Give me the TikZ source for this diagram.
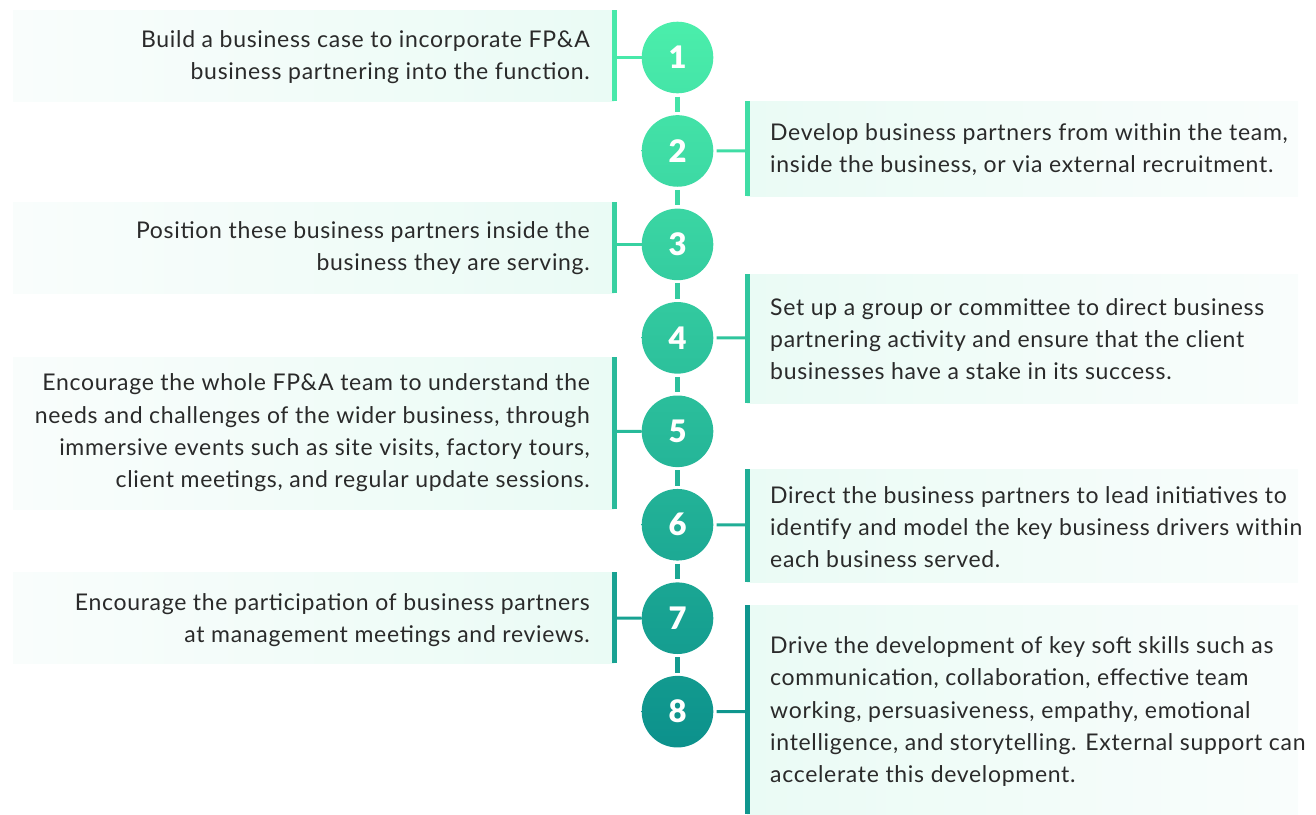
\documentclass[tikz,border=0pt]{standalone}
\usepackage{fontspec}
\setmainfont{Lato}[LetterSpace=3]
\newfontfamily\stepfont{Lato Black}
\usetikzlibrary{calc}

\definecolor{cStart}{HTML}{4BEEAB}
\definecolor{cEnd}{HTML}{0C918C}
\definecolor{txt}{HTML}{2A2A2A}
\definecolor{mint}{HTML}{EAFBF5}
\definecolor{paleMint}{HTML}{F9FDFC}

\tikzset{
  num/.style={circle, minimum size=71.6pt, inner sep=0pt, text=white,
              font=\fontsize{31}{31}\stepfont},
  desc/.style={text=txt, inner sep=0pt, font=\fontsize{23}{32.3}\selectfont},
  descL/.style={desc, anchor=east, align=right},
  descR/.style={desc, anchor=west, align=left},
  link/.style={line width=3pt},
  chain/.style={line width=5pt},
}

% left panel: fades toward the outside, bar on its inner edge
\newcommand{\leftpanel}[3]{% top, bottom, colour
  \shade[left color=paleMint, right color=mint] (13,#1) rectangle (614,#2);
  \fill[#3] (612,#1) rectangle (617,#2);
}
\newcommand{\rightpanel}[3]{%
  \shade[left color=mint, right color=paleMint] (747,#1) rectangle (1298,#2);
  \fill[#3] (745,#1) rectangle (750,#2);
}

\begin{document}
\begin{tikzpicture}[x=1pt, y=1pt]
\useasboundingbox (0,0) rectangle (1316,-814);

% panels behind the text
\leftpanel{-10}{-101}{cEnd!5!cStart}
\rightpanel{-101}{-196}{cEnd!18!cStart}
\leftpanel{-202}{-293}{cEnd!31!cStart}
\rightpanel{-274}{-403}{cEnd!43!cStart}
\leftpanel{-357}{-509}{cEnd!56!cStart}
\rightpanel{-469}{-582}{cEnd!69!cStart}
\leftpanel{-572}{-663}{cEnd!82!cStart}
\rightpanel{-605}{-814}{cEnd!95!cStart}

% numbered steps
\foreach \k in {1,...,8}{
  \pgfmathsetmacro\cy{-57.5-93.45*(\k-1)}
  \pgfmathtruncatemacro\ptop{round(12.87*(\k-1))}
  \pgfmathtruncatemacro\pbot{round(12.87*(\k-1)+9.9)}
  \node[num, top color=cEnd!\ptop!cStart, bottom color=cEnd!\pbot!cStart]
    (n\k) at (677.5,\cy) {\k};
}

% links between consecutive steps
\foreach \k in {1,...,7}{
  \pgfmathtruncatemacro\j{\k+1}
  \pgfmathtruncatemacro\pc{round(12.87*\k-1.5)}
  \draw[chain, cEnd!\pc!cStart] ([yshift=-3pt]n\k.south) -- ([yshift=3pt]n\j.north);
}

% attachment points on the panel bars
\coordinate (b1) at (614.5,-57.5);
\coordinate (b2) at (747.5,-151);
\coordinate (b3) at (614.5,-244.4);
\coordinate (b4) at (747.5,-337.9);
\coordinate (b5) at (614.5,-431.3);
\coordinate (b6) at (747.5,-524.8);
\coordinate (b7) at (614.5,-618.2);
\coordinate (b8) at (747.5,-711.7);

\draw[link, cEnd!5!cStart]  (n1.west) -- (b1);
\draw[link, cEnd!18!cStart] ([xshift=3pt]n2.east) -- (b2);
\draw[link, cEnd!31!cStart] (n3.west) -- (b3);
\draw[link, cEnd!44!cStart] ([xshift=3pt]n4.east) -- (b4);
\draw[link, cEnd!56!cStart] (n5.west) -- (b5);
\draw[link, cEnd!69!cStart] ([xshift=3pt]n6.east) -- (b6);
\draw[link, cEnd!82!cStart] (n7.west) -- (b7);
\draw[link, cEnd!95!cStart] ([xshift=3pt]n8.east) -- (b8);

% descriptions
\node[descL] (t1) at (590,-57) {Build a business case to incorporate FP\&A\\business partnering into the function.};
\node[descR] (t2) at (770,-149.5) {Develop business partners from within the team,\\inside the business, or via external recruitment.};
\node[descL] (t3) at (590,-248) {Position these business partners inside the\\business they are serving.};
\node[descR] (t4) at (770,-339) {Set up a group or committee to direct business\\partnering activity and ensure that the client\\businesses have a stake in its success.};
\node[descL] (t5) at (590,-433) {Encourage the whole FP\&A team to understand the\\needs and challenges of the wider business, through\\immersive events such as site visits, factory tours,\\client meetings, and regular update sessions.};
\node[descR] (t6) at (770,-527) {Direct the business partners to lead initiatives to\\identify and model the key business drivers within\\each business served.};
\node[descL] (t7) at (590,-620) {Encourage the participation of business partners\\at management meetings and reviews.};
\node[descR] (t8) at (770,-711.5) {Drive the development of key soft skills such as\\communication, collaboration, effective team\\working, persuasiveness, empathy, emotional\\intelligence, and storytelling. External support can\\accelerate this development.};
\end{tikzpicture}
\end{document}
